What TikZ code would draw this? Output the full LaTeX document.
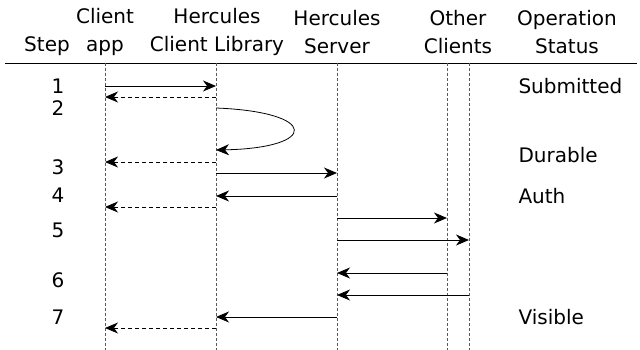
\documentclass[tikz,border=0pt]{standalone}
\usepackage{fontspec}
\setmainfont{DejaVu Sans}
\usetikzlibrary{arrows.meta}
\tikzset{
  life/.style={densely dashed,gray!70!black,line width=0.6pt},
  call/.style={-{Stealth[length=13pt,width=11pt,inset=4pt]},line width=0.8pt},
  reply/.style={call,dash pattern=on 4pt off 3pt},
  head/.style={align=center,font=\fontsize{20}{28}\selectfont},
  lbl/.style={font=\fontsize{20}{24}\selectfont},
}
\begin{document}
\begin{tikzpicture}[x=1pt,y=-1pt]
        \useasboundingbox (0,0) rectangle (640,350);
        % column heads
        \node[head] (step) at (47,46) {Step};
        \node[head] (app) at (105,32) {Client\\app};
        \node[head] (lib) at (217,32) {Hercules\\Client Library};
        \node[head] (srv) at (337,32) {Hercules\\Server};
        \node[head] (oth) at (458,32) {Other\\Clients};
        \node[head] (stat) at (567,32) {Operation\\Status};
        \draw (5,63)--(637,63);
        % lifelines
        \foreach \n/\x in {a/105,l/216,s/337,o/447,p/469}{
          \coordinate (\n) at (\x,63);
          \draw[life] (\n)--++(0,287);
        }
        % steps and status
        \foreach \i/\y in {1/86,2/108,3/167,4/195,5/230,6/280,7/317}
          \node[lbl] (n\i) at (58,\y) {\i};
        \node[lbl,anchor=west] (st1) at (515,86) {Submitted};
        \node[lbl,anchor=west] (st3) at (515,155) {Durable};
        \node[lbl,anchor=west] (st4) at (515,196) {Auth};
        \node[lbl,anchor=west] (st7) at (515,317) {Visible};
        % messages
        \draw[call] (a|-0,86)--(l|-0,86);
        \draw[reply] (l|-0,97)--(a|-0,97);
        \draw[call] (l|-0,108) .. controls (319,112) and (319,148) .. (l|-0,150);
        \draw[reply] (l|-0,162)--(a|-0,162);
        \draw[call] (l|-0,173)--(s|-0,173);
        \draw[call] (s|-0,196)--(l|-0,196);
        \draw[reply] (l|-0,207)--(a|-0,207);
        \draw[call] (s|-0,218)--(o|-0,218);
        \draw[call] (s|-0,240)--(p|-0,240);
        \draw[call] (o|-0,273)--(s|-0,273);
        \draw[call] (p|-0,295)--(s|-0,295);
        \draw[call] (s|-0,317)--(l|-0,317);
        \draw[reply] (l|-0,328)--(a|-0,328);
\end{tikzpicture}
\end{document}
